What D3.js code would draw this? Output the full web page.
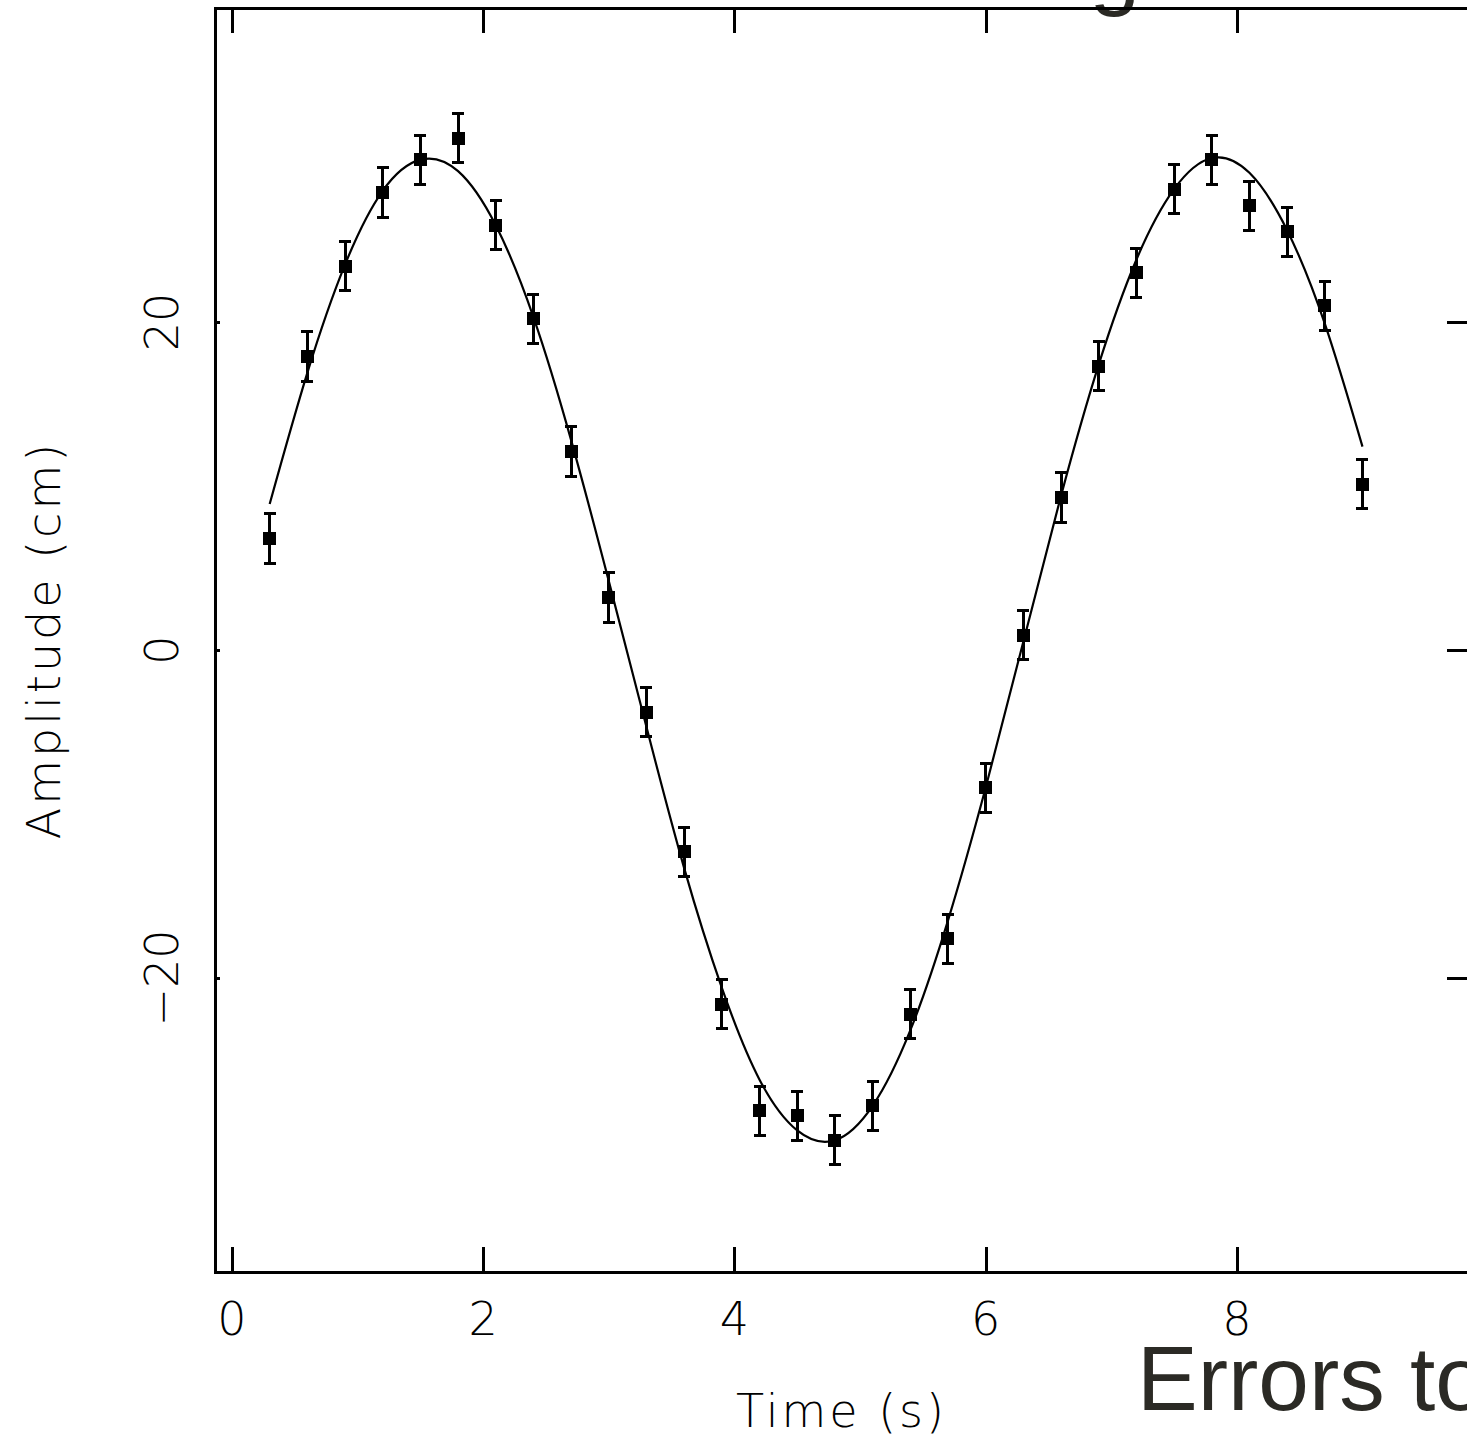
<!DOCTYPE html>
<html>
<head>
<meta charset="utf-8">
<script src="https://cdn.jsdelivr.net/npm/d3@7"></script>
<style>
  html, body { margin: 0; padding: 0; background: #fff; overflow: hidden; }
  .lbl { font-family: "DejaVu Sans", sans-serif; font-weight: 200; font-size: 46px; fill: #000; }
  .big { font-family: "Liberation Sans", Arial, sans-serif; font-size: 91px; fill: #2b2a25; }
</style>
</head>
<body>
<div id="chart"></div>
<script>
// measured points (time in s, amplitude in cm)
const times = [0.3, 0.6, 0.9, 1.2, 1.5, 1.8, 2.1, 2.4, 2.7, 3.0,
               3.3, 3.6, 3.9, 4.2, 4.5, 4.8, 5.1, 5.4, 5.7, 6.0,
               6.3, 6.6, 6.9, 7.2, 7.5, 7.8, 8.1, 8.4, 8.7, 9.0];
const amps = [6.8, 17.9, 23.4, 27.9, 29.9, 31.2, 25.9, 20.2, 12.1, 3.2,
              -3.8, -12.3, -21.6, -28.1, -28.4, -29.9, -27.8, -22.2, -17.6, -8.4,
              0.9, 9.3, 17.3, 23.0, 28.1, 29.9, 27.1, 25.5, 21.0, 10.1];
const errs = [1.5, 1.5, 1.5, 1.5, 1.5, 1.5, 1.5, 1.5, 1.5, 1.5,
              1.5, 1.5, 1.5, 1.5, 1.5, 1.5, 1.5, 1.5, 1.5, 1.5,
              1.5, 1.5, 1.5, 1.5, 1.5, 1.5, 1.5, 1.5, 1.5, 1.5];

// fitted curve
const fitT = [0.3, 0.6, 0.9, 1.2, 1.5, 1.8, 2.1, 2.4, 2.7, 3.0,
              3.3, 3.6, 3.9, 4.2, 4.5, 4.8, 5.1, 5.4, 5.7, 6.0,
              6.3, 6.6, 6.9, 7.2, 7.5, 7.8, 8.1, 8.4, 8.7, 9.0];
const fitY = [8.9, 16.9, 23.5, 28.0, 29.9, 29.2, 25.9, 20.3, 12.8, 4.2,
              -4.7, -13.3, -20.6, -26.2, -29.3, -29.9, -27.8, -23.2, -16.5, -8.4,
              0.5, 9.4, 17.4, 23.8, 28.1, 30.0, 29.1, 25.6, 19.9, 12.4];

const xTicks = [0, 2, 4, 6, 8];
const yTicks = [-20, 0, 20];

const W = 1467, H = 1444;
const frame = {left: 215, top: 8, right: 1468, bottom: 1272};

const svg = d3.select("#chart").append("svg")
    .attr("width", W)
    .attr("height", H);

const x = d3.scaleLinear().domain([-0.135, 9.84]).range([frame.left, frame.right]);
const y = d3.scaleLinear().domain([-37.93, 39.15]).range([frame.bottom, frame.top]);

// title above the frame, only its descender shows
svg.append("text")
    .attr("class", "big")
    .attr("x", 1140)
    .attr("y", -2)
    .attr("text-anchor", "end")
    .text("Fitting");

// ticks: axes with inward ticks, no domain line
svg.append("g")
    .attr("transform", `translate(0, ${frame.bottom})`)
    .call(d3.axisBottom(x).tickValues(xTicks).tickSize(-25).tickFormat(""))
    .call(g => g.select(".domain").remove());
svg.append("g")
    .attr("transform", `translate(0, ${frame.top})`)
    .call(d3.axisTop(x).tickValues(xTicks).tickSize(-25).tickFormat(""))
    .call(g => g.select(".domain").remove());
svg.append("g")
    .attr("transform", `translate(${frame.right}, 0)`)
    .call(d3.axisRight(y).tickValues(yTicks).tickSize(-21).tickFormat(""))
    .call(g => g.select(".domain").remove());
svg.append("g")
    .attr("transform", `translate(${frame.left}, 0)`)
    .call(d3.axisLeft(y).tickValues(yTicks).tickSize(-5).tickFormat(""))
    .call(g => g.select(".domain").remove());
svg.selectAll(".tick line")
    .attr("stroke", "#000")
    .attr("stroke-width", 3)
    .attr("shape-rendering", "crispEdges");

svg.append("rect")
    .attr("x", frame.left)
    .attr("y", frame.top)
    .attr("width", frame.right - frame.left)
    .attr("height", frame.bottom - frame.top)
    .attr("fill", "none")
    .attr("stroke", "#000")
    .attr("stroke-width", 3)
    .attr("shape-rendering", "crispEdges");

// tick labels
svg.selectAll(".xlab")
    .data(xTicks)
    .enter().append("text")
    .attr("class", "lbl")
    .attr("x", d => x(d))
    .attr("y", 1335)
    .attr("text-anchor", "middle")
    .text(d => d);

svg.selectAll(".ylab")
    .data(yTicks)
    .enter().append("text")
    .attr("class", "lbl")
    .attr("transform", d => `translate(178, ${y(d)}) rotate(-90)`)
    .attr("text-anchor", "middle")
    .text(d => d < 0 ? "\u2212" + Math.abs(d) : d);

// axis titles
svg.append("text")
    .attr("class", "lbl")
    .attr("x", (frame.left + frame.right) / 2)
    .attr("y", 1427)
    .attr("text-anchor", "middle")
    .attr("letter-spacing", 3)
    .text("Time (s)");

svg.append("text")
    .attr("class", "lbl")
    .attr("transform", `translate(60, ${(frame.top + frame.bottom) / 2}) rotate(-90)`)
    .attr("text-anchor", "middle")
    .attr("letter-spacing", 3)
    .text("Amplitude (cm)");

// fitted curve
const fit = fitT.map((t, i) => [t, fitY[i]]);
const line = d3.line()
    .x(d => x(d[0]))
    .y(d => y(d[1]))
    .curve(d3.curveNatural);

svg.append("path")
    .datum(fit)
    .attr("fill", "none")
    .attr("stroke", "#000")
    .attr("stroke-width", 2.2)
    .attr("d", line);

// points with error bars
const pts = times.map((t, i) => ({t: t, a: amps[i], e: errs[i]}));
const pt = svg.selectAll(".pt")
    .data(pts)
    .enter().append("g")
    .attr("class", "pt")
    .attr("stroke", "#000")
    .attr("stroke-width", 3)
    .attr("shape-rendering", "crispEdges");

pt.append("line")
    .attr("x1", d => x(d.t)).attr("x2", d => x(d.t))
    .attr("y1", d => y(d.a + d.e)).attr("y2", d => y(d.a - d.e));
pt.append("line")
    .attr("x1", d => x(d.t) - 6).attr("x2", d => x(d.t) + 6)
    .attr("y1", d => y(d.a + d.e)).attr("y2", d => y(d.a + d.e));
pt.append("line")
    .attr("x1", d => x(d.t) - 6).attr("x2", d => x(d.t) + 6)
    .attr("y1", d => y(d.a - d.e)).attr("y2", d => y(d.a - d.e));
pt.append("rect")
    .attr("x", d => x(d.t) - 6.5)
    .attr("y", d => y(d.a) - 6.5)
    .attr("width", 13)
    .attr("height", 13)
    .attr("stroke", "none")
    .attr("fill", "#000");

// overlapping slide text
svg.append("text")
    .attr("class", "big")
    .attr("x", 1137)
    .attr("y", 1410)
    .text("Errors to");
</script>
</body>
</html>
